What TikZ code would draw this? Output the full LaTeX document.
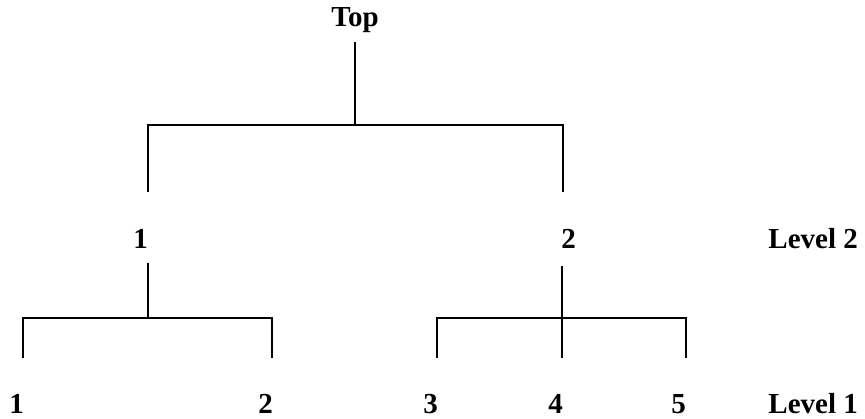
\documentclass[tikz,border=0pt]{standalone}
\usepackage{fontspec}
\setmainfont{Liberation Serif}
\begin{document}
\begin{tikzpicture}[x=1pt,y=1pt,
  lbl/.style={font=\fontsize{29}{34}\selectfont\bfseries, inner sep=0pt, anchor=base east},
  edge/.style={line width=1.2pt}]
\useasboundingbox (0,0) rectangle (865,418);

% labels
\node[lbl] (top) at (379,391) {Top};
\node[lbl] (a)   at (148,169) {1};
\node[lbl] (b)   at (576,169) {2};
\node[lbl] (lv2) at (858,169) {Level 2};
\node[lbl] (c1)  at (24,5)  {1};
\node[lbl] (c2)  at (273,5) {2};
\node[lbl] (c3)  at (438,5) {3};
\node[lbl] (c4)  at (563,5) {4};
\node[lbl] (c5)  at (686,5) {5};
\node[lbl] (lv1) at (858,5) {Level 1};

% tree joints
\coordinate (t0) at (355,376);
\coordinate (t1) at (355,293);
\coordinate (tl) at (148,293);
\coordinate (tr) at (563,293);
\coordinate (tle) at (148,226);
\coordinate (tre) at (563,226);

\coordinate (a0) at (148,155);
\coordinate (a1) at (148,100);
\coordinate (al) at (23,100);
\coordinate (ar) at (272,100);
\coordinate (ale) at (23,60);
\coordinate (are) at (272,60);

\coordinate (b0) at (562,152);
\coordinate (b1) at (562,100);
\coordinate (bl) at (437,100);
\coordinate (br) at (686,100);
\coordinate (ble) at (437,60);
\coordinate (bme) at (562,60);
\coordinate (bre) at (686,60);

% top level
\draw[edge] (t0) -- (t1);
\draw[edge] (tle) -- (tl) -- (tr) -- (tre);

% subtree under 1
\draw[edge] (a0) -- (a1);
\draw[edge] (ale) -- (al) -- (ar) -- (are);

% subtree under 2
\draw[edge] (b0) -- (bme);
\draw[edge] (ble) -- (bl) -- (br) -- (bre);
\end{tikzpicture}
\end{document}
